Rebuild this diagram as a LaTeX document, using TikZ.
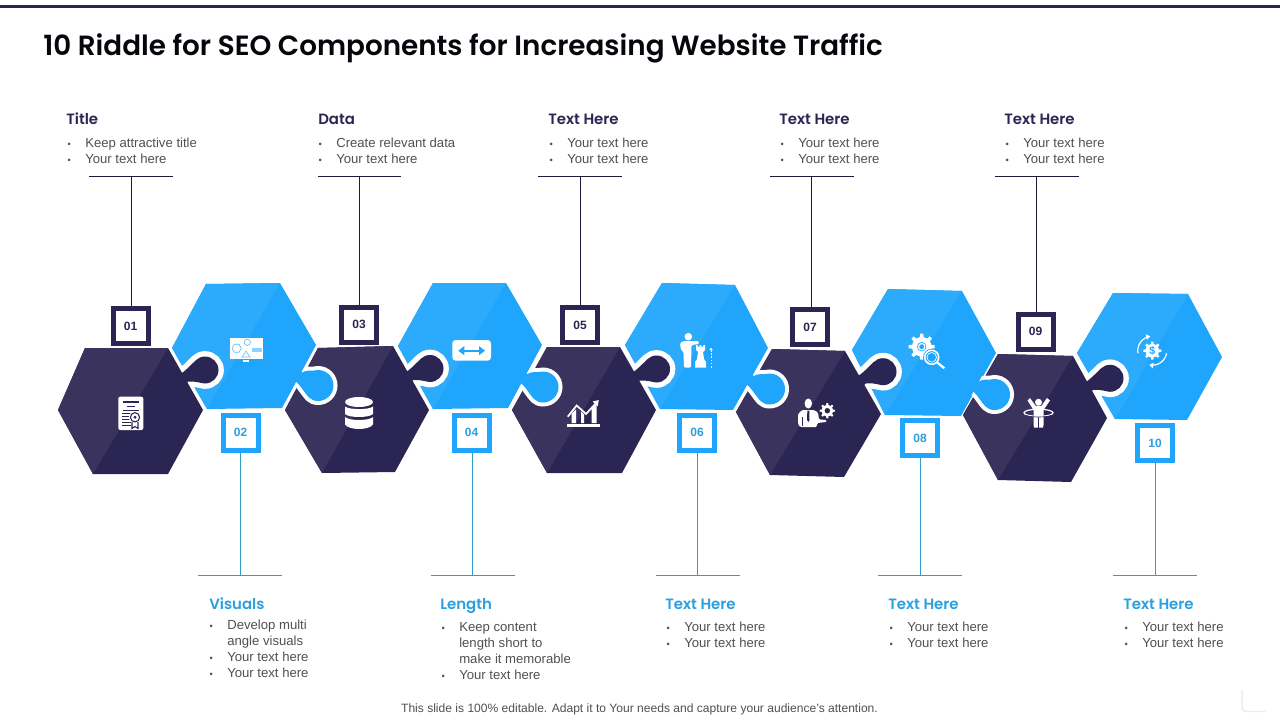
\documentclass[tikz,border=0pt]{standalone}
\usepackage{fontspec}
\setmainfont{Liberation Sans}
\newfontfamily\titlefont[BoldFont={Poppins SemiBold}]{Poppins}
\newfontfamily\headfont{Poppins SemiBold}
\usetikzlibrary{arrows.meta}
\definecolor{navyL}{HTML}{3A335E}
\definecolor{navyD}{HTML}{2B2553}
\definecolor{blueL}{HTML}{2CAAFB}
\definecolor{blueD}{HTML}{1FA5FB}
\definecolor{teal}{HTML}{2F9FC6}
\definecolor{headblue}{HTML}{2C9FDF}
\definecolor{bodygrey}{HTML}{505055}
\tikzset{
  x=0.75pt,y=-0.75pt,
  numdark/.style={draw=navyD,fill=white,line width=3.75pt,minimum width=26.25pt,minimum height=26.25pt,inner sep=0pt,text=navyD,font=\fontsize{9}{10}\selectfont\bfseries},
  numblue/.style={numdark,draw=blueD,text=headblue},
  headdark/.style={anchor=west,inner sep=0pt,text height=9pt,text depth=3pt,text=navyD,font=\fontsize{11.2}{13}\headfont},
  headblue/.style={headdark,text=headblue},
  blocktext/.style={anchor=north west,inner sep=0pt,align=left,text=bodygrey,font=\fontsize{9.85}{12}\selectfont},
  topline/.style={draw=navyD!70!black,line width=0.75pt},
  botline/.style={draw=teal,line width=0.75pt},
}
\newcommand{\bul}{\strut\makebox[14.25pt][l]{\hspace{1pt}\fontsize{7}{7}\selectfont •}}
\newcommand{\cont}{\strut\hspace*{14.25pt}}
% L, TL, TR, R, BR, BL, light, dark
\newcommand{\hexa}[8]{%
  \fill[#8] #1 -- #2 -- #3 -- #4 -- #5 -- #6 -- cycle;
  \fill[#7] #1 -- #2 -- #3 -- #6 -- cycle;
}
\newcommand{\knobD}[2]{%
  \begin{scope}[shift={(#1,#2)}]
  \begin{scope}
  \clip (-56.7,-60) -- (13.3,64) -- (70,64) -- (70,-60) -- cycle;
  \draw[white,line width=8pt] (-21.7,2) .. controls (-18,-1) and (-15,-4) .. (-9.5,-9.5) .. controls (-7,-12) and (-3.7,-13.5) .. (0,-13.5) .. controls (7.4,-13.5) and (13.5,-7.4) .. (13.5,0) .. controls (13.5,7.4) and (7.4,13.5) .. (0,13.5) .. controls (-4,13.5) and (-7,11) .. (-17,11.7);
  \end{scope}
  \fill[navyD] (-21.7,2) .. controls (-18,-1) and (-15,-4) .. (-9.5,-9.5) .. controls (-7,-12) and (-3.7,-13.5) .. (0,-13.5) .. controls (7.4,-13.5) and (13.5,-7.4) .. (13.5,0) .. controls (13.5,7.4) and (7.4,13.5) .. (0,13.5) .. controls (-4,13.5) and (-7,11) .. (-17,11.7) -- (-21,15) -- (-26,5) -- cycle;
  \end{scope}
}
\newcommand{\knobB}[2]{%
  \begin{scope}[shift={(#1,#2)}]
  \begin{scope}
  \clip (18.5,-76) -- (-49.5,50) -- (60,50) -- (60,-76) -- cycle;
  \draw[white,line width=6pt] (-15.5,-13) .. controls (-12,-15.5) and (-8,-14.5) .. (-4,-15) .. controls (-2.7,-15.3) and (-1.3,-15.5) .. (0,-15.5) .. controls (8.6,-15.5) and (15.5,-8.6) .. (15.5,0) .. controls (15.5,8.6) and (8.6,15.5) .. (0,15.5) .. controls (-4,15.5) and (-7,14) .. (-9,12) .. controls (-13,8) and (-16,2) .. (-21,-3);
  \end{scope}
  \fill[blueD] (-15.5,-13) .. controls (-12,-15.5) and (-8,-14.5) .. (-4,-15) .. controls (-2.7,-15.3) and (-1.3,-15.5) .. (0,-15.5) .. controls (8.6,-15.5) and (15.5,-8.6) .. (15.5,0) .. controls (15.5,8.6) and (8.6,15.5) .. (0,15.5) .. controls (-4,15.5) and (-7,14) .. (-9,12) .. controls (-13,8) and (-16,2) .. (-21,-3) -- (-25,-6) -- (-20,-16) -- cycle;
  \end{scope}
}
% number square with its T-shaped leader
\newcommand{\topconn}[6]{% id, cx, cy, x line, left, right
  \node[numdark] (n#1) at (#2,#3) {#1};
  \coordinate (t#1) at (#4,176.5); \coordinate (tl#1) at (#5,176.5); \coordinate (tr#1) at (#6,176.5);
  \draw[topline] (n#1.north -| t#1) -- (t#1);
  \draw[topline] (tl#1) -- (tr#1);
}
\newcommand{\botconn}[6]{%
  \node[numblue] (n#1) at (#2,#3) {#1};
  \coordinate (t#1) at (#4,575.5); \coordinate (tl#1) at (#5,575.5); \coordinate (tr#1) at (#6,575.5);
  \draw[botline] (n#1.south -| t#1) -- (t#1);
  \draw[botline] (tl#1) -- (tr#1);
}
\newcommand{\gearicon}[4]{% cx cy R hole colour
  \begin{scope}[shift={(#1,#2)}]
  \foreach \a in {0,45,...,315}{\fill[white,rotate=\a] ({-.17*#3},{.6*#3}) -- ({-.12*#3},{#3}) -- ({.12*#3},{#3}) -- ({.17*#3},{.6*#3}) -- cycle;}
  \fill[white] (0,0) circle ({.75*#3});
  \fill[#4] (0,0) circle ({.36*#3});
  \end{scope}
}
\begin{document}
\begin{tikzpicture}
\useasboundingbox (0,0) rectangle (1280,720);
\fill[white] (0,0) rectangle (1280,720);
\fill[navyD] (0,5.5) rectangle (1280,8);
\node[anchor=west,inner sep=0pt,text=black!85!navyD,font=\fontsize{20.85}{24}\titlefont\bfseries] (title) at (43,48.5) {10 Riddle for SEO Components for Increasing Website Traffic};
% hexagons
\hexa{(58,410)}{(85,348)}{(168,348)}{(203,410)}{(168,474)}{(93,474)}{navyL}{navyD}
\hexa{(172,348)}{(206,284)}{(280,283)}{(316,345)}{(282,408)}{(207,409)}{blueL}{blueD}
\hexa{(285,410)}{(318,348)}{(393,346)}{(429,410)}{(395,472)}{(322,473)}{navyL}{navyD}
\hexa{(398,346)}{(433,283)}{(506,283)}{(542,345)}{(508,408)}{(433,409)}{blueL}{blueD}
\hexa{(512,410)}{(547,347)}{(620,347)}{(656,410)}{(622,473)}{(547,473)}{navyL}{navyD}
\hexa{(625,345)}{(662,283)}{(735,285)}{(768,348)}{(733,410)}{(660,409)}{blueL}{blueD}
\hexa{(736,412)}{(772,349)}{(845,351)}{(881,414)}{(844,477)}{(770,475)}{navyL}{navyD}
\hexa{(852,350)}{(888,289)}{(962,291)}{(996,353)}{(961,416)}{(885,415)}{blueL}{blueD}
\hexa{(963,415)}{(998,354)}{(1073,356)}{(1107,418)}{(1071,482)}{(998,480)}{navyL}{navyD}
\hexa{(1077,353)}{(1113,293)}{(1188,294)}{(1222,357)}{(1187,420)}{(1115,419)}{blueL}{blueD}
% puzzle knobs
\knobD{205}{370}\knobD{430}{368.5}\knobD{656.5}{369}\knobD{883}{371.7}\knobD{1110}{378.3}
\knobB{318}{385.5}\knobB{543}{387}\knobB{769.5}{389}\knobB{994.5}{394.5}
% number squares and leaders
\topconn{01}{130.5}{326}{131.5}{89}{173}
\botconn{02}{240.5}{432.5}{240.5}{198}{282}
\topconn{03}{359}{324.5}{359.5}{318}{401}
\botconn{04}{471.5}{432.5}{472.5}{431}{515}
\topconn{05}{580}{325}{580.5}{538}{622}
\botconn{06}{697}{432.5}{697.5}{656}{740}
\topconn{07}{810}{327}{811.5}{770}{854}
\botconn{08}{920}{438}{920.5}{878}{962}
\topconn{09}{1035.5}{331.5}{1036.5}{995}{1079}
\botconn{10}{1155}{443}{1155.5}{1113}{1197}
% top text
\node[headdark] (h1) at (66,121) {Title};
\node[blocktext] (b1) at (66,135.8) {\bul Keep attractive title\\\bul Your text here};
\node[headdark] (h3) at (318,121) {Data};
\node[blocktext] (b3) at (317,135.8) {\bul Create relevant data\\\bul Your text here};
\node[headdark] (h5) at (548,121) {Text Here};
\node[blocktext] (b5) at (548,135.8) {\bul Your text here\\\bul Your text here};
\node[headdark] (h7) at (779,121) {Text Here};
\node[blocktext] (b7) at (779,135.8) {\bul Your text here\\\bul Your text here};
\node[headdark] (h9) at (1004,121) {Text Here};
\node[blocktext] (b9) at (1004,135.8) {\bul Your text here\\\bul Your text here};
% bottom text
\node[headblue] (h2) at (209,605) {Visuals};
\node[blocktext] (b2) at (208,617.8) {\bul Develop multi\\\cont angle visuals\\\bul Your text here\\\bul Your text here};
\node[headblue] (h4) at (440,605) {Length};
\node[blocktext] (b4) at (440,619.8) {\bul Keep content\\\cont length short to\\\cont make it memorable\\\bul Your text here};
\node[headblue] (h6) at (665,605) {Text Here};
\node[blocktext] (b6) at (665,619.8) {\bul Your text here\\\bul Your text here};
\node[headblue] (h8) at (888,605) {Text Here};
\node[blocktext] (b8) at (888,619.8) {\bul Your text here\\\bul Your text here};
\node[headblue] (h10) at (1123,605) {Text Here};
\node[blocktext] (b10) at (1123,619.8) {\bul Your text here\\\bul Your text here};
\node[inner sep=0pt,text=bodygrey,font=\fontsize{9.05}{11}\selectfont] (foot) at (639.5,709) {This slide is 100\% editable. Adapt it to Your needs and capture your audience's attention.};
% corner mark
\draw[black!7,line width=1.1pt,line cap=round,rounded corners=3pt] (1242,690) -- (1242,711.5) -- (1265,711.5);
% icon 1: certificate
\fill[white,rounded corners=1.5pt] (118.3,396.7) rectangle (143.3,430);
\fill[navyD] (122.7,400.7) rectangle (139,403.3);
\fill[navyD] (127,405.8) rectangle (135,406.8);
\fill[navyD] (123,409.5) rectangle (139,410.5);
\foreach \yy in {413,416,419,422,425}{\fill[navyD] (121.5,\yy) rectangle (130.5,\yy+1);}
\fill[white] (135,417.3) circle (6);
\draw[navyD,line width=0.8pt] (135,417.3) circle (4.6);
\fill[navyD] (135,417.3) circle (1.6);
\draw[navyD,line width=0.8pt] (132,422) -- (132,428.5) -- (135,426.5) -- (138,428.5) -- (138,422);
% icon 2: monitor
\fill[white] (230,338.3) rectangle (262.7,359.3);
\fill[white] (243.3,360) rectangle (249.3,362.3);
\draw[blueD!70,line width=0.5pt] (232,348.3) -- (234.3,344.3) -- (239,344.3) -- (241.3,348.3) -- (239,352.3) -- (234.3,352.3) -- cycle;
\draw[blueD!70,line width=0.5pt] (247.3,342.3) circle (3.2);
\draw[blueD!70,line width=0.5pt] (246,351) -- (250,357) -- (242,357) -- cycle;
\fill[blueD!50] (252,348) rectangle (262,352);
% icon 3: database
\fill[white] (359,402) ellipse (14 and 5);
\fill[white] (345,406.5) .. controls (349,410) and (369,410) .. (373,406.5) -- (373,414) .. controls (369,418) and (349,418) .. (345,414) -- cycle;
\fill[white] (345,417) .. controls (349,421) and (369,421) .. (373,417) -- (373,424.5) .. controls (369,430.5) and (349,430.5) .. (345,424.5) -- cycle;
% icon 4: resize arrow
\fill[white,rounded corners=2.5pt] (452.3,340) rectangle (491,360.7);
\draw[blueD,line width=1.6pt,{Triangle[length=4.5pt,width=6.5pt]}-{Triangle[length=4.5pt,width=6.5pt]}] (458.3,350.7) -- (485,350.7);
% icon 5: growth chart
\fill[white] (566.7,424.3) rectangle (600,426.7);
\fill[white] (571.7,413.5) -- (576,409.5) -- (576,423) -- (571.7,423) -- cycle;
\fill[white] (581,411.5) -- (584,414.5) -- (584,423) -- (581,423) -- cycle;
\fill[white] (591.7,408) -- (596.7,404) -- (596.7,423) -- (591.7,423) -- cycle;
\draw[white,line width=1.3pt,-{Triangle[length=4pt,width=5pt]}] (567.7,416.7) -- (576.7,405.5) -- (586,414) -- (598.8,400);
% icon 6: person and rook
\fill[white] (688.3,336.7) circle (3.8);
\fill[white,rounded corners=1pt] (680,343) -- (683,341.2) -- (699,341.2) -- (699,344) -- (691.5,345) -- (691,367.7) -- (684,367.7) -- (683.5,352) -- (681,350) -- cycle;
\fill[white] (696,345) -- (697.7,345) -- (697.7,346.7) -- (699.7,346.7) -- (699.7,345) -- (701.4,345) -- (701.4,346.7) -- (703.4,346.7) -- (703.4,345) -- (705,345) -- (705,350) -- (703,352) -- (704,359) -- (706,362) -- (706,367.7) -- (695,367.7) -- (695,362) -- (697,359) -- (698,352) -- (696,350) -- cycle;
\draw[white,line width=0.6pt,dash pattern=on 1.2pt off 1.2pt] (711,350) -- (711,367.7);
\fill[white] (709.3,350) -- (711,347.7) -- (712.7,350) -- cycle;
% icon 7: businessman and gear
\fill[white] (808.3,403.5) ellipse (3.7 and 5);
\fill[white,rounded corners=1pt] (802,410) -- (814,410) -- (818,412.5) -- (819,419.5) -- (826.7,420) -- (826.7,422) -- (817,423) -- (817,427) -- (800,427) -- (798,424) -- (798,414) -- cycle;
\fill[navyD] (807.3,410.5) -- (809.3,410.5) -- (809.5,420) -- (808.3,422) -- (807.1,420) -- cycle;
\draw[navyD,line width=0.5pt] (802.5,417) -- (802.5,426);
\gearicon{827.3}{410.7}{7.6}{navyD}
% icon 8: gear and magnifier
\gearicon{921.7}{346.7}{13}{blueD}
\draw[white,line width=0.9pt] (921.7,346.7) circle (3.2);
\fill[blueD] (931.7,357.3) circle (8.6);
\draw[white,line width=1.2pt] (931.7,357.3) circle (7);
\draw[white,line width=0.5pt] (931.7,357.3) circle (4.8);
\draw[white,line width=1.7pt] (937,362.3) -- (944.3,368.3);
% icon 9: hula hoop
\fill[white] (1038.5,402.3) circle (3.5);
\fill[white] (1027.5,400.5) -- (1030,398) -- (1035.5,405.8) -- (1041.5,405.8) -- (1047,398) -- (1050,400.5) -- (1043.5,410) -- (1043.5,425) -- (1043,427.7) -- (1039.2,427.7) -- (1039,417) -- (1038,417) -- (1037.8,427.7) -- (1034,427.7) -- (1033.5,425) -- (1033.5,410) -- cycle;
\draw[white,line width=0.9pt] (1038.5,412.8) ellipse (14.5 and 3.6);
\draw[navyD,line width=0.5pt] (1026,415.4) .. controls (1031,417.5) and (1046,417.5) .. (1051,415.4);
% icon 10: dollar gear with cycle arrows
\gearicon{1152.3}{350.7}{9}{blueD}
\fill[white] (1152.3,350.7) circle (5.8);
\node[inner sep=0pt,text=blueD,font=\fontsize{8}{8}\selectfont\bfseries] (dollar) at (1152.3,350.7) {\$};
\draw[white,line width=0.9pt,-{Triangle[length=3pt,width=4pt]}] plot[domain=170:262,samples=20] ({1152.3+14.5*cos(\x)},{350.7+14.5*sin(\x)});
\draw[white,line width=0.9pt,-{Triangle[length=3pt,width=4pt]}] plot[domain=10:102,samples=20] ({1152.3+14.5*cos(\x)},{350.7+14.5*sin(\x)});
\end{tikzpicture}
\end{document}
